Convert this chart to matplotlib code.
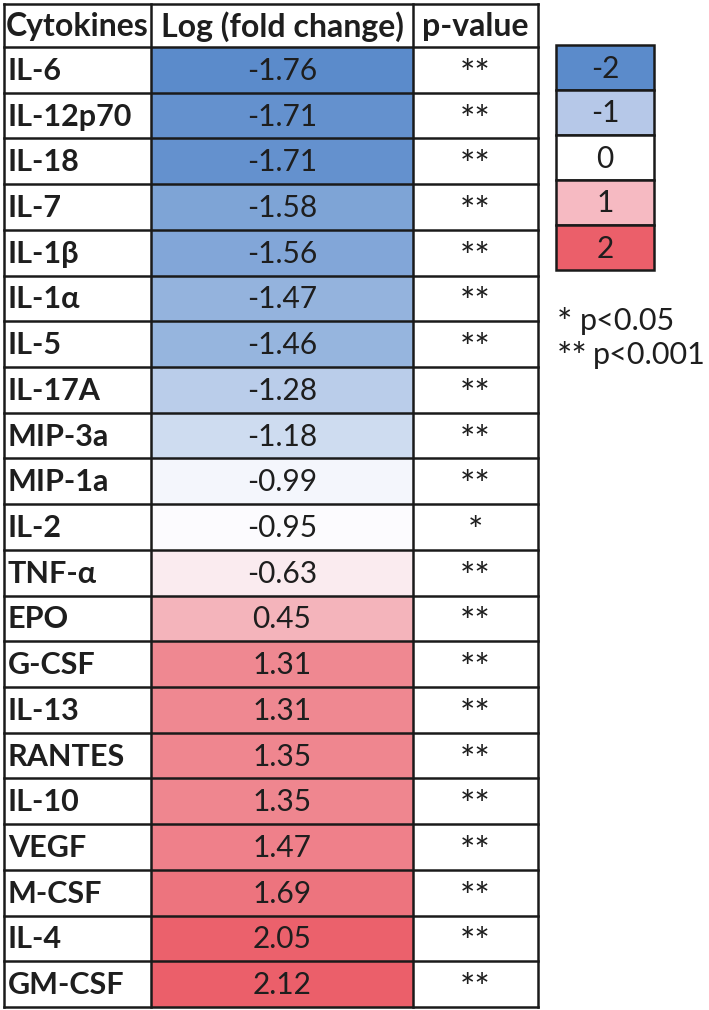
import matplotlib
matplotlib.use("Agg")
import matplotlib.pyplot as plt
from matplotlib.colors import LinearSegmentedColormap, TwoSlopeNorm
import numpy as np

plt.rcParams['font.family'] = ['Lato', 'DejaVu Sans']

# data
cytokines = ["IL-6", "IL-12p70", "IL-18", "IL-7", "IL-1β", "IL-1α", "IL-5", "IL-17A",
             "MIP-3a", "MIP-1a", "IL-2", "TNF-α", "EPO", "G-CSF", "IL-13", "RANTES",
             "IL-10", "VEGF", "M-CSF", "IL-4", "GM-CSF"]
log_fc = [-1.76, -1.71, -1.71, -1.58, -1.56, -1.47, -1.46, -1.28, -1.18, -0.99, -0.95,
          -0.63, 0.45, 1.31, 1.31, 1.35, 1.35, 1.47, 1.69, 2.05, 2.12]
pvals = ["**"] * 10 + ["*"] + ["**"] * 10
headers = ["Cytokines", "Log (fold change)", "p-value"]
legend_vals = [-2, -1, 0, 1, 2]
legend_colors = ["#5B8BCB", "#B6C8E8", "#FFFFFF", "#F6BAC2", "#EB5F6A"]
sig_stars = ["*", "**"]
sig_labels = ["p<0.05", "p<0.001"]

# Excel-style 3-colour scale: min -> blue, median -> white, max -> red
cmap = LinearSegmentedColormap.from_list("rwb", ["#5B8BCB", "#FCFCFF", "#EB5F6A"])
vals = np.array(log_fc)
norm = TwoSlopeNorm(vmin=vals.min(), vcenter=np.median(vals), vmax=vals.max())

W, H = 709, 1010
fig = plt.figure(figsize=(W / 100, H / 100), dpi=100)
ax = fig.add_axes([0, 0, 1, 1])
ax.set_xlim(0, W)
ax.set_ylim(H, 0)
ax.axis("off")

txt = "#1e1e1e"

# table geometry (pixels)
col_x = [4, 151, 413, 538]
top, header_bottom, bottom = 4, 47, 1007
n = len(cytokines)
row_edges = np.linspace(header_bottom, bottom, n + 1)
row_mid = (row_edges[:-1] + row_edges[1:]) / 2

# coloured column
ax.pcolormesh([col_x[1], col_x[2]], row_edges, vals.reshape(-1, 1),
              cmap=cmap, norm=norm, shading="flat", zorder=1)

# grid lines
lw = 1.8
for y in [top, header_bottom] + list(row_edges[1:]):
    ax.plot([col_x[0], col_x[-1]], [y, y], color="#1a1a1a", lw=lw, zorder=3)
for x in col_x:
    ax.plot([x, x], [top, bottom], color="#1a1a1a", lw=lw, zorder=3)

# header
hy = (top + header_bottom) / 2 + 1
ax.text(col_x[0] + 2, hy, headers[0], ha="left", va="center", fontsize=23, fontweight="bold", color=txt)
ax.text((col_x[1] + col_x[2]) / 2, hy, headers[1], ha="center", va="center", fontsize=23, fontweight="bold", color=txt)
ax.text((col_x[2] + col_x[3]) / 2, hy, headers[2], ha="center", va="center", fontsize=23, fontweight="bold", color=txt)

# rows
for i in range(n):
    y = row_mid[i] + 1
    ax.text(col_x[0] + 4, y, cytokines[i], ha="left", va="center", fontsize=22, fontweight="bold", color=txt)
    ax.text((col_x[1] + col_x[2]) / 2, y, f"{log_fc[i]:.2f}", ha="center", va="center",
            fontsize=21.5, color=txt)
    ax.text((col_x[2] + col_x[3]) / 2, row_mid[i] + 16, pvals[i], ha="center", va="baseline",
            fontsize=26, color=txt)

# legend boxes
lx0, lx1 = 556, 654
ly = np.linspace(45, 270, len(legend_vals) + 1)
for i, v in enumerate(legend_vals):
    ax.add_patch(plt.Rectangle((lx0, ly[i]), lx1 - lx0, ly[i + 1] - ly[i],
                               facecolor=legend_colors[i], edgecolor="#1a1a1a", lw=1.8, zorder=2))
    ax.text((lx0 + lx1) / 2, (ly[i] + ly[i + 1]) / 2 + 1, str(v), ha="center", va="center",
            fontsize=21.5, color=txt, zorder=3)

# significance notes
for i in range(len(sig_stars)):
    yb = 330 + i * 34
    ax.text(557, yb + 5, sig_stars[i], ha="left", va="baseline", fontsize=26, color=txt)
    x_off = 557 + 13 * len(sig_stars[i]) + 10
    ax.text(x_off, yb, sig_labels[i], ha="left", va="baseline", fontsize=22, color=txt)

fig.savefig("out.png", dpi=100)
